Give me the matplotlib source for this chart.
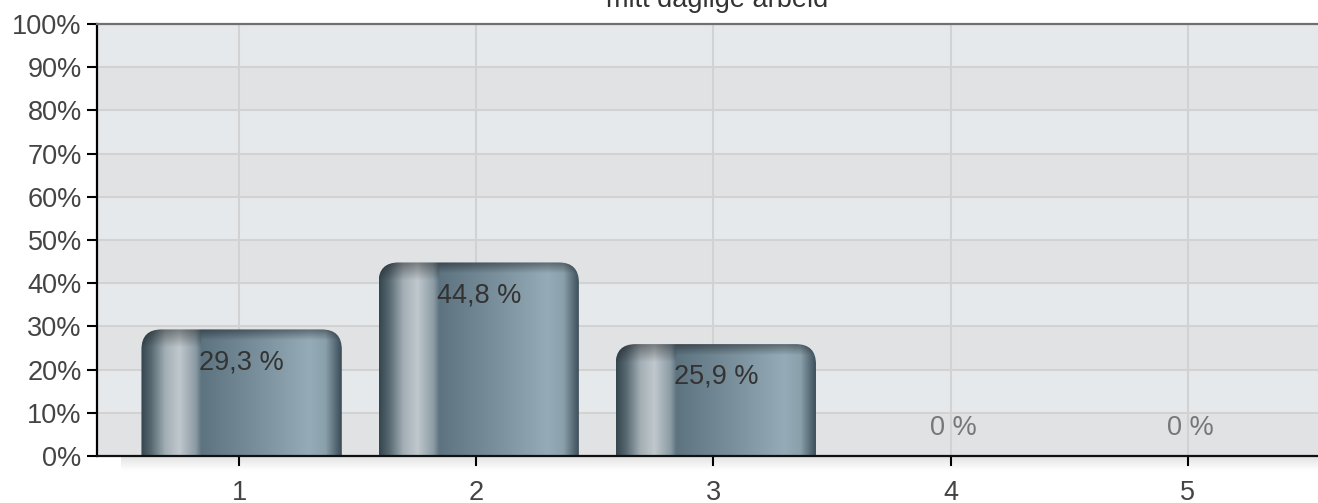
import numpy as np
import matplotlib
matplotlib.use("Agg")
import matplotlib.pyplot as plt
from matplotlib.patches import FancyBboxPatch
from matplotlib.colors import to_rgb

# data
categories = ["1", "2", "3", "4", "5"]
values = [29.3, 44.8, 25.9, 0, 0]
value_labels = ["29,3 %", "44,8 %", "25,9 %", "0 %", "0 %"]
yticks = list(range(0, 101, 10))
ytick_labels = [f"{t}%" for t in yticks]
title = "mitt daglige arbeid"

plt.rcParams["font.family"] = ["Liberation Sans", "DejaVu Sans"]
FS = 19.5

fig = plt.figure(figsize=(13.18, 5.03), dpi=100)
ax = fig.add_axes([97 / 1318, 47 / 503, 1 - 97 / 1318, 432 / 503])

x = np.arange(1, len(categories) + 1)
ax.set_xlim(0.4, 5.55)
ax.set_ylim(0, 100)

# alternating background bands
for lo in yticks[:-1]:
    col = "#e1e2e4" if (lo // 10) % 2 == 0 else "#e6e9ec"
    ax.axhspan(lo, lo + 10, color=col, zorder=0, lw=0)

ax.set_axisbelow(True)
ax.grid(True, color="#d2d2d2", lw=1.5, zorder=1)

bars = ax.bar(x + 0.01, values, width=0.845, color="none", edgecolor="none", zorder=2)

# horizontal shading profile of a bar
stops = [(0.00, "#36464f"), (0.05, "#586972"), (0.12, "#a3afb5"), (0.19, "#c0c8cd"),
         (0.27, "#8c9ca5"), (0.30, "#5d7380"), (0.60, "#7b919d"), (0.84, "#95abb7"),
         (0.92, "#8aa0ab"), (1.00, "#3a4c57")]
pos = np.array([s[0] for s in stops])
cols = np.array([to_rgb(s[1]) for s in stops])
nx, ny = 200, 300
t = np.linspace(0, 1, nx)
row = np.stack([np.interp(t, pos, cols[:, k]) for k in range(3)], axis=1)

px_x = 237.0  # pixels per x unit
px_y = 4.32   # pixels per percent
r_px = 20
for rect, v in zip(bars, values):
    if v <= 0:
        continue
    x0 = rect.get_x()
    w = rect.get_width()
    bottom = -r_px / px_y
    patch = FancyBboxPatch((x0, bottom), w, v - bottom,
                           boxstyle=f"round,pad=0,rounding_size={r_px / px_x}",
                           mutation_aspect=px_x / px_y,
                           fc="none", ec="none", zorder=2)
    ax.add_patch(patch)
    hpx = v * px_y
    yy = np.linspace(1, 0, ny) * hpx
    dist_top = hpx - yy
    # darker cap, a bit deeper on the left part
    depth = np.where(t < 0.3, 18.0, 11.0)
    shade = 0.62 + 0.38 * np.clip(dist_top[:, None] / depth[None, :], 0, 1)
    img = row[None, :, :] * shade[:, :, None]
    im = ax.imshow(img, extent=(x0, x0 + w, 0, v), aspect="auto",
                   interpolation="bilinear", zorder=2)
    im.set_clip_path(patch)

# soft shadow under the x axis
sh = np.linspace(0.88, 1.0, 20)
shadow = np.repeat(sh[:, None], 10, axis=1)
ax.imshow(shadow, extent=(0.5, 5.55, -3.5, 0), aspect="auto", cmap="gray",
          vmin=0, vmax=1, clip_on=False, zorder=0, interpolation="bilinear")

ax.set_xlim(0.4, 5.55)
ax.set_ylim(0, 100)

for xi, v, lab in zip(x, values, value_labels):
    if v > 10:
        ax.text(xi + 0.01, v - 7.6, lab, ha="center", va="center", fontsize=FS,
                color="#333333", zorder=3)
    else:
        ax.text(xi + 0.01, v + 6.5, lab, ha="center", va="center", fontsize=FS,
                color="#777777", zorder=3)

ax.set_xticks(x)
ax.set_xticklabels(categories)
ax.set_yticks(yticks)
ax.set_yticklabels(ytick_labels)
ax.tick_params(axis="both", labelsize=FS, labelcolor="#444444", color="black",
               length=7, width=1.5, direction="out")
ax.tick_params(axis="x", pad=10)
ax.tick_params(axis="y", pad=4)

ax.spines["left"].set_color("black")
ax.spines["left"].set_linewidth(1.6)
ax.spines["bottom"].set_color("#111111")
ax.spines["bottom"].set_linewidth(1.6)
ax.spines["top"].set_color("#707070")
ax.spines["top"].set_linewidth(1.6)
ax.spines["right"].set_visible(False)

fig.text(717 / 1318, 1 - 7 / 503, title, ha="center", va="baseline",
         fontsize=FS, color="#333333")

fig.savefig("out.png", dpi=100)
